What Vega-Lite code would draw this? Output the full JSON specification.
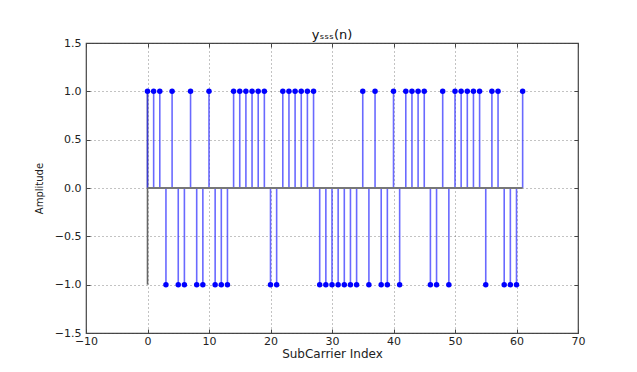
{
  "$schema": "https://vega.github.io/schema/vega-lite/v6.json",
  "width": 492,
  "height": 290,
  "autosize": {"type": "none"},
  "padding": {"left": 86, "top": 43, "right": 59, "bottom": 39},
  "background": "white",
  "title": {"text": "yₛₛₛ(n)", "font": "DejaVu Sans", "fontSize": 13, "fontWeight": "normal", "color": "#111", "offset": -5},
  "config": {
    "view": {"stroke": "#444", "strokeWidth": 1.2},
    "axis": {
      "labelFont": "DejaVu Sans", "titleFont": "DejaVu Sans", "labelFontSize": 11,
      "labelColor": "#222", "titleColor": "#222", "titleFontWeight": "normal",
      "domain": false, "gridColor": "#555", "gridDash": [1, 3], "gridWidth": 0.7,
      "tickColor": "#444", "labelOverlap": false, "labelFlush": false, "labelBound": false
    }
  },
  "data": {"values": [
    {"n":0,"v":1},{"n":1,"v":1},{"n":2,"v":1},{"n":3,"v":-1},{"n":4,"v":1},{"n":5,"v":-1},{"n":6,"v":-1},{"n":7,"v":1},{"n":8,"v":-1},{"n":9,"v":-1},
    {"n":10,"v":1},{"n":11,"v":-1},{"n":12,"v":-1},{"n":13,"v":-1},{"n":14,"v":1},{"n":15,"v":1},{"n":16,"v":1},{"n":17,"v":1},{"n":18,"v":1},{"n":19,"v":1},
    {"n":20,"v":-1},{"n":21,"v":-1},{"n":22,"v":1},{"n":23,"v":1},{"n":24,"v":1},{"n":25,"v":1},{"n":26,"v":1},{"n":27,"v":1},{"n":28,"v":-1},{"n":29,"v":-1},
    {"n":30,"v":-1},{"n":31,"v":-1},{"n":32,"v":-1},{"n":33,"v":-1},{"n":34,"v":-1},{"n":35,"v":1},{"n":36,"v":-1},{"n":37,"v":1},{"n":38,"v":-1},{"n":39,"v":-1},
    {"n":40,"v":1},{"n":41,"v":-1},{"n":42,"v":1},{"n":43,"v":1},{"n":44,"v":1},{"n":45,"v":1},{"n":46,"v":-1},{"n":47,"v":-1},{"n":48,"v":1},{"n":49,"v":-1},
    {"n":50,"v":1},{"n":51,"v":1},{"n":52,"v":1},{"n":53,"v":1},{"n":54,"v":1},{"n":55,"v":-1},{"n":56,"v":1},{"n":57,"v":1},{"n":58,"v":-1},{"n":59,"v":-1},
    {"n":60,"v":-1},{"n":61,"v":1}
  ]},
  "resolve": {"axis": {"x": "independent", "y": "independent"}},
  "layer": [
    {
      "mark": {"type": "rule", "color": "#666", "strokeWidth": 1.6},
      "encoding": {
        "x": {"datum": 0, "type": "quantitative",
          "scale": {"domain": [-10, 70], "nice": false, "zero": false},
          "axis": {"orient": "bottom", "values": [-10,0,10,20,30,40,50,60,70], "format": "d",
            "title": "SubCarrier Index", "titleFontSize": 12, "titlePadding": 2,
            "ticks": true, "tickSize": -4, "labelPadding": 6, "grid": true}},
        "y": {"aggregate": "min", "field": "v", "type": "quantitative",
          "scale": {"domain": [-1.5, 1.5], "nice": false, "zero": false},
          "axis": {"orient": "left", "values": [-1.5,-1,-0.5,0,0.5,1,1.5], "format": ".1f",
            "title": "Amplitude", "titleFontSize": 10, "titlePadding": 10,
            "ticks": true, "tickSize": -4, "labelPadding": 9, "grid": true}},
        "y2": {"aggregate": "max", "field": "v"}
      }
    },
    {
      "mark": {"type": "rule", "color": "#2a2aff", "strokeWidth": 1.6, "opacity": 0.7},
      "encoding": {
        "x": {"field": "n", "type": "quantitative", "axis": null},
        "y": {"field": "v", "type": "quantitative", "axis": null},
        "y2": {"datum": 0}
      }
    },
    {
      "mark": {"type": "rule", "color": "#777", "strokeWidth": 1.8},
      "encoding": {
        "x": {"aggregate": "min", "field": "n", "type": "quantitative", "axis": null},
        "x2": {"aggregate": "max", "field": "n"},
        "y": {"datum": 0, "type": "quantitative", "axis": null}
      }
    },
    {
      "mark": {"type": "point", "filled": true, "color": "#0000ff", "size": 30, "opacity": 1},
      "encoding": {
        "x": {"field": "n", "type": "quantitative", "axis": null},
        "y": {"field": "v", "type": "quantitative", "axis": null}
      }
    },
    {
      "mark": {"type": "point", "opacity": 0},
      "encoding": {
        "x": {"field": "n", "type": "quantitative",
          "axis": {"orient": "top", "values": [-10,0,10,20,30,40,50,60,70], "labels": false, "grid": false, "ticks": true, "tickSize": -4, "title": null}},
        "y": {"field": "v", "type": "quantitative",
          "axis": {"orient": "right", "values": [-1.5,-1,-0.5,0,0.5,1,1.5], "labels": false, "grid": false, "ticks": true, "tickSize": -4, "title": null}}
      }
    }
  ]
}
